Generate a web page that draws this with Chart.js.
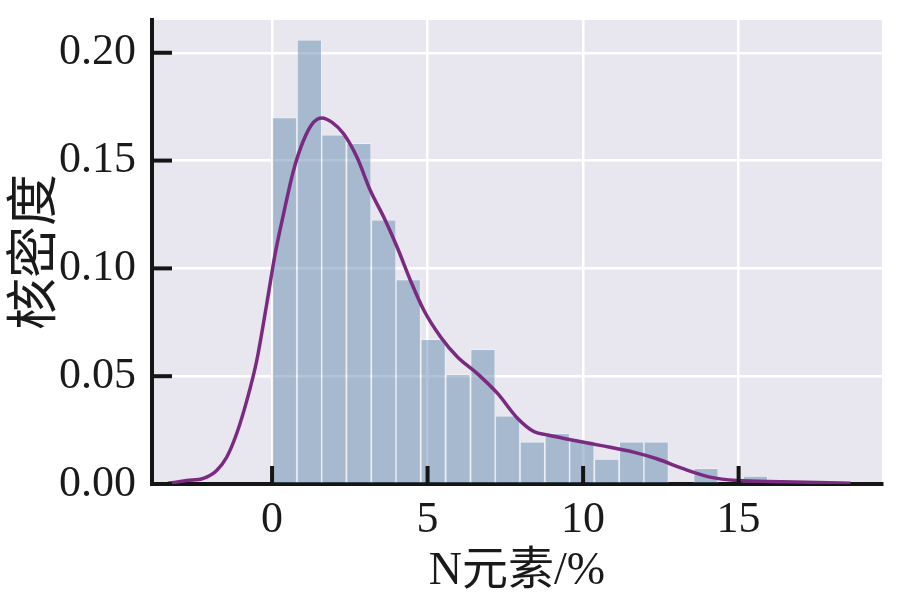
<!DOCTYPE html>
<html>
<head>
<meta charset="utf-8">
<script src="https://cdn.jsdelivr.net/npm/chart.js@4/dist/chart.umd.min.js"></script>
<style>
  html, body { margin: 0; padding: 0; background: #ffffff; }
  #wrap { width: 898px; height: 606px; }
</style>
</head>
<body>
<div id="wrap"><canvas id="c" width="898" height="606"></canvas></div>
<script>
// Histogram bins (centres, % N) and density heights
const binCenters = [0.40, 1.20, 1.99, 2.79, 3.59, 4.38, 5.18, 5.98, 6.78, 7.57,
                    8.37, 9.17, 9.96, 10.76, 11.56, 12.35, 13.15, 13.95, 14.75, 15.54];
const binDensity = [0.170, 0.206, 0.162, 0.158, 0.1225, 0.0948, 0.0671, 0.0509, 0.0625, 0.0316,
                    0.0196, 0.0235, 0.0200, 0.0116, 0.0196, 0.0196, 0.0, 0.0073, 0.0, 0.0037];

// KDE curve points
const kdeX = [-3.35, -2.74, -2.21, -1.78, -1.46, -1.14, -0.81, -0.49, -0.17, 0.10, 0.37, 0.69, 1.01, 1.33, 1.60,
              1.93, 2.30, 2.73, 3.16, 3.59, 4.02, 4.45, 4.88, 5.42, 5.96, 6.60, 7.25, 7.89,
              8.43, 8.86, 9.94, 10.55, 11.62, 12.37, 13.22, 14.08, 14.94, 16.40, 18.60];
const kdeY = [0.0003, 0.0016, 0.0026, 0.0063, 0.0124, 0.0233, 0.0388, 0.0574, 0.0836, 0.1068, 0.1253, 0.1454, 0.1593, 0.1677, 0.1698,
              0.1677, 0.1624, 0.1515, 0.1361, 0.1238, 0.1099, 0.0944, 0.0806, 0.0682, 0.0589, 0.0512, 0.0420, 0.0305,
              0.0242, 0.0227, 0.0196, 0.0179, 0.0148, 0.0117, 0.0071, 0.0032, 0.0016, 0.0011, 0.0004];

const xTicks = [0, 5, 10, 15];
const yTicks = [0.00, 0.05, 0.10, 0.15, 0.20];
const xTitle = 'N元素/%';
const yTitle = '核密度';

const bgPlugin = {
  id: 'plotBg',
  beforeDraw(chart) {
    const { ctx, chartArea: a } = chart;
    ctx.save();
    ctx.fillStyle = '#e8e6ee';
    ctx.fillRect(a.left, a.top, a.right - a.left, a.bottom - a.top);
    ctx.restore();
  }
};

const inTicks = {
  id: 'inTicks',
  afterDraw(chart) {
    const { ctx, chartArea: a, scales } = chart;
    ctx.save();
    ctx.strokeStyle = '#151515';
    ctx.lineWidth = 4;
    scales.y.ticks.forEach(t => {
      const py = scales.y.getPixelForValue(t.value);
      ctx.beginPath(); ctx.moveTo(a.left, py); ctx.lineTo(a.left + 20, py); ctx.stroke();
    });
    scales.x.ticks.forEach(t => {
      const px = scales.x.getPixelForValue(t.value);
      ctx.beginPath(); ctx.moveTo(px, a.bottom); ctx.lineTo(px, a.bottom - 18); ctx.stroke();
    });
    ctx.restore();
  }
};

new Chart(document.getElementById('c'), {
  data: {
    datasets: [
      {
        type: 'line',
        data: kdeX.map((x, i) => ({ x, y: kdeY[i] })),
        borderColor: '#7a2a80',
        borderWidth: 3.5,
        pointRadius: 0,
        cubicInterpolationMode: 'monotone',
        fill: false,
        order: 0
      },
      {
        type: 'bar',
        data: binCenters.map((x, i) => ({ x, y: binDensity[i] })),
        backgroundColor: 'rgba(100,140,175,0.5)',
        borderColor: 'rgba(255,255,255,0.35)',
        borderWidth: 1,
        barPercentage: 1,
        categoryPercentage: 1,
        order: 1
      }
    ]
  },
  options: {
    responsive: false,
    animation: false,
    layout: { padding: { top: 20, right: 16, left: 0, bottom: 0 } },
    plugins: { legend: { display: false }, tooltip: { enabled: false } },
    scales: {
      x: {
        type: 'linear',
        min: -3.86,
        max: 19.61,
        offset: false,
        afterBuildTicks(s) { s.ticks = xTicks.map(v => ({ value: v })); },
        afterFit(s) { s.height = 122; s.paddingLeft = 0; s.paddingRight = 0; },
        grid: { color: '#ffffff', lineWidth: 2.5, drawTicks: false, offset: false },
        border: { display: true, color: '#151515', width: 4 },
        ticks: {
          padding: 10,
          color: '#1a1a1a',
          font: { family: 'Liberation Serif', size: 44 },
          callback: v => String(v)
        },
        title: {
          display: true,
          text: xTitle,
          color: '#1a1a1a',
          font: { family: "'Liberation Serif', 'Noto Sans CJK SC'", size: 46 },
          padding: { top: 0, bottom: 6 }
        }
      },
      y: {
        type: 'linear',
        min: 0,
        max: 0.2152,
        afterBuildTicks(s) { s.ticks = yTicks.map(v => ({ value: v })); },
        afterFit(s) { s.width = 152; s.paddingTop = 0; s.paddingBottom = 0; },
        grid: { color: '#ffffff', lineWidth: 2.5, drawTicks: false },
        border: { display: true, color: '#151515', width: 4 },
        ticks: {
          padding: 16,
          color: '#1a1a1a',
          font: { family: 'Liberation Serif', size: 44 },
          callback: v => v.toFixed(2)
        },
        title: {
          display: true,
          text: yTitle,
          color: '#1a1a1a',
          font: { family: "'Noto Sans CJK SC'", size: 52 },
          padding: { top: 0, bottom: 0 }
        }
      }
    }
  },
  plugins: [bgPlugin, inTicks]
});
</script>
</body>
</html>
